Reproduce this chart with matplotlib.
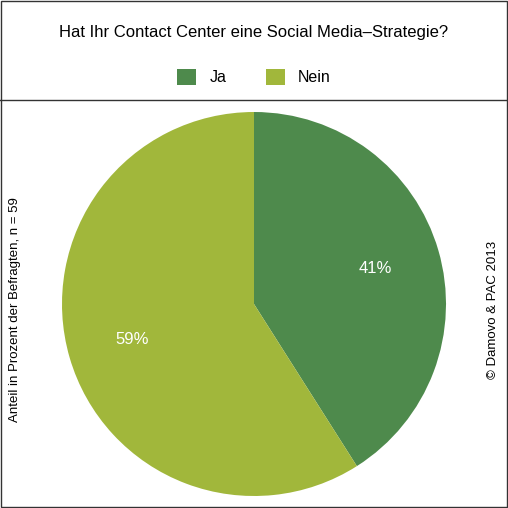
import matplotlib
matplotlib.use("Agg")
import matplotlib.pyplot as plt
from matplotlib.patches import Patch

labels = ["Ja", "Nein"]
values = [41, 59]
colors = ["#4e8a4c", "#a1b73b"]

fig = plt.figure(figsize=(5.08, 5.08), dpi=100)

# frame and header separator
fig.add_artist(plt.Rectangle((0.002, 0.002), 0.996, 0.996, fill=False,
                             edgecolor="#333333", lw=1, transform=fig.transFigure))
fig.add_artist(plt.Line2D([0, 1], [1 - 100 / 508] * 2, color="#333333", lw=1,
                          transform=fig.transFigure))

fig.text(0.5, 1 - 33 / 508, "Hat Ihr Contact Center eine Social Media\u2013Strategie?",
         ha="center", va="center", fontsize=12, family="Liberation Sans")
handles = [Patch(facecolor=c, label=l) for c, l in zip(colors, labels)]
fig.legend(handles=handles, loc="center", bbox_to_anchor=(0.5, 1 - 77 / 508),
           ncol=2, frameon=False, handlelength=1.2, handleheight=1.2,
           columnspacing=2.5, prop={"family": "Liberation Sans", "size": 11.5})

fig.text(15 / 508, 1 - 310 / 508, "Anteil in Prozent der Befragten, n = 59",
         rotation=90, ha="center", va="center", fontsize=9.5, family="Liberation Sans")
fig.text(493 / 508, 1 - 310 / 508, "\u00a9 Damovo & PAC 2013",
         rotation=90, ha="center", va="center", fontsize=9.5, family="Liberation Sans")

r = 192 / 508
ax = fig.add_axes([254 / 508 - r, 1 - 304 / 508 - r, 2 * r, 2 * r])
ax.pie(values, colors=colors, startangle=90, counterclock=False,
       autopct=lambda p: f"{p:.0f}%", pctdistance=0.66,
       textprops={"color": "white", "fontsize": 12, "family": "Liberation Sans"})
ax.set_xlim(-1, 1)
ax.set_ylim(-1, 1)
ax.set_aspect("equal")

fig.savefig("out.png", dpi=100)
